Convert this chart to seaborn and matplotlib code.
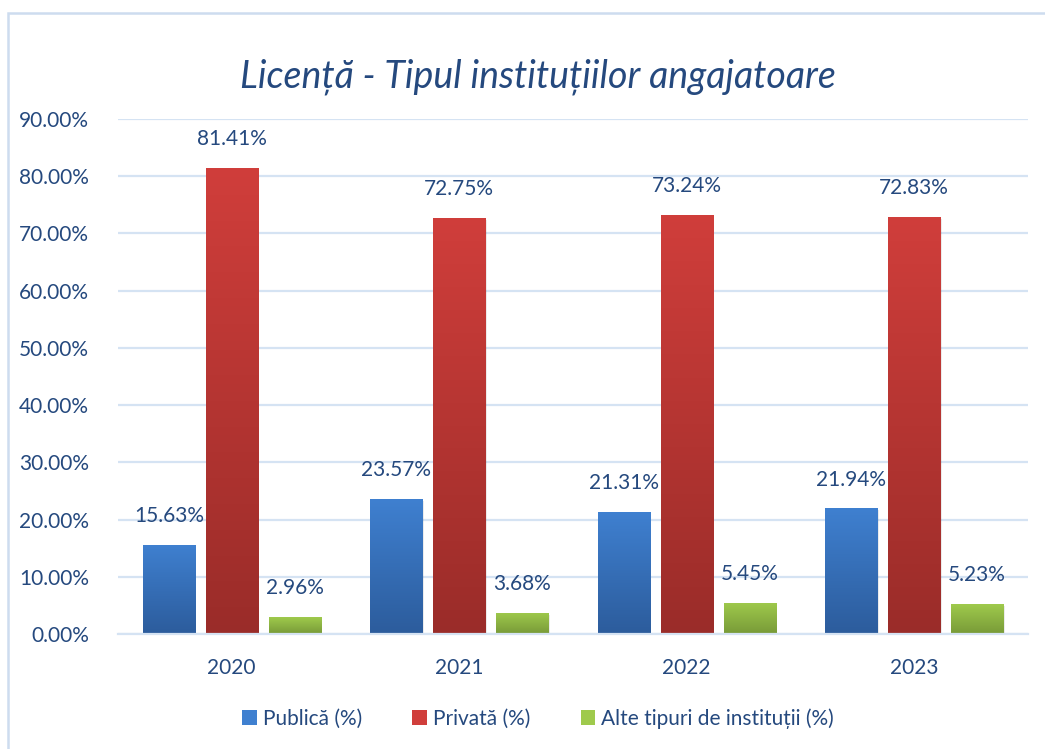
import numpy as np
import pandas as pd
import matplotlib
matplotlib.use("Agg")
import matplotlib.pyplot as plt
import matplotlib.colors as mcolors
from matplotlib.patches import Rectangle, Patch
import seaborn as sns

# Valeurs
ani = ["2020", "2021", "2022", "2023"]
publica = [15.63, 23.57, 21.31, 21.94]
privata = [81.41, 72.75, 73.24, 72.83]
alte = [2.96, 3.68, 5.45, 5.23]
serii = ["Publică (%)", "Privată (%)", "Alte tipuri de instituții (%)"]

# couleurs (haut, bas) du dégradé de chaque série
culori = {
    serii[0]: ("#3f80d0", "#2c5c9c"),
    serii[1]: ("#d03e3b", "#9a2c29"),
    serii[2]: ("#9fca4c", "#789a38"),
}
text_color = "#25497e"
grid_color = "#d5e3f3"

df = pd.DataFrame({"an": ani, serii[0]: publica, serii[1]: privata, serii[2]: alte})
long_df = df.melt(id_vars="an", var_name="serie", value_name="valoare")

sns.set_style("white")
plt.rcParams["font.family"] = ["Lato", "DejaVu Sans"]

fig = plt.figure(figsize=(10.45, 7.49), dpi=100)
ax = fig.add_axes([0.1129, 0.1535, 0.8708, 0.6876])

palette = {s: culori[s][0] for s in serii}
sns.barplot(data=long_df, x="an", y="valoare", hue="serie", hue_order=serii,
            palette=palette, width=0.83, gap=0.17, ax=ax, legend=False,
            errorbar=None, saturation=1, linewidth=0)

# dégradé vertical dans chaque barre
for container, serie in zip(ax.containers, serii):
    top, bottom = culori[serie]
    cmap = mcolors.LinearSegmentedColormap.from_list(serie, [bottom, top])
    grad = np.linspace(0, 1, 256).reshape(-1, 1)
    for bar, val in zip(container, df[serie]):
        x0, y0 = bar.get_x(), bar.get_y()
        w, h = bar.get_width(), bar.get_height()
        # ombre légère
        ax.add_patch(Rectangle((x0 + 0.006, y0 - 0.35), w, h, facecolor="#000000",
                               alpha=0.08, edgecolor="none", zorder=1.5))
        im = ax.imshow(grad, cmap=cmap, aspect="auto", origin="lower",
                       extent=[x0, x0 + w, y0, y0 + h], zorder=2)
        im.set_clip_path(bar)
        bar.set_facecolor("none")
        bar.set_edgecolor("none")
        bar.set_zorder(2.5)
        ax.text(x0 + w / 2, y0 + h + 3.3, f"{val:.2f}%", ha="center", va="bottom",
                fontsize=15, color=text_color)

ax.set_xlim(-0.5, 3.5)
ax.set_ylim(0, 90)
ax.set_yticks(np.arange(0, 91, 10))
ax.set_yticklabels([f"{v:.2f}%" for v in np.arange(0, 91, 10)])
ax.yaxis.grid(True, color=grid_color, linewidth=1.6)
ax.set_axisbelow(True)
for s in ["top", "right", "left"]:
    ax.spines[s].set_visible(False)
ax.spines["bottom"].set_color(grid_color)
ax.spines["bottom"].set_linewidth(1.6)
ax.tick_params(axis="both", length=0, labelsize=15, labelcolor=text_color)
ax.tick_params(axis="y", pad=21)
ax.tick_params(axis="x", pad=17)
ax.set_xlabel("")
ax.set_ylabel("")

fig.text(0.515, 0.897, "Licență - Tipul instituțiilor angajatoare", ha="center",
         va="center", fontsize=27, style="italic", color=text_color)

handles = [Patch(facecolor=culori[s][0], edgecolor="none") for s in serii]
fig.legend(handles, serii, loc="center", bbox_to_anchor=(0.515, 0.041), ncol=3,
           frameon=False, fontsize=15, labelcolor=text_color, handlelength=0.7,
           handleheight=0.7, handletextpad=0.3, columnspacing=2.4)

# cadre bleu clair autour du graphique
fig.add_artist(Rectangle((8 / 1045, -0.02), 1.05, 1 - 13 / 749 + 0.02,
                         transform=fig.transFigure, fill=False,
                         edgecolor="#cddcef", linewidth=1.8))

fig.savefig("out.png", dpi=100)
